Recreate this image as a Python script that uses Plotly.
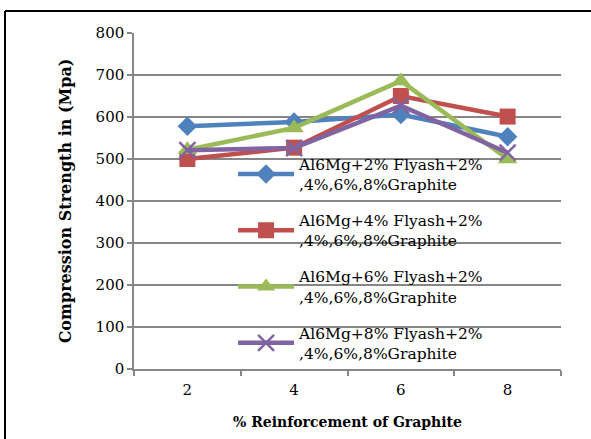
import plotly.graph_objects as go

# Graphite reinforcement levels (%)
graphite = ["2", "4", "6", "8"]

# Compression strength (MPa) for each flyash content
al_2_flyash = [578, 588, 606, 553]
al_4_flyash = [500, 527, 650, 601]
al_6_flyash = [522, 574, 686, 500]
al_8_flyash = [521, 526, 627, 515]

series_names = [
    "Al6Mg+2% Flyash+2%<br>,4%,6%,8%Graphite",
    "Al6Mg+4% Flyash+2%<br>,4%,6%,8%Graphite",
    "Al6Mg+6% Flyash+2%<br>,4%,6%,8%Graphite",
    "Al6Mg+8% Flyash+2%<br>,4%,6%,8%Graphite",
]
series_values = [al_2_flyash, al_4_flyash, al_6_flyash, al_8_flyash]
colors = ["#4F81BD", "#C0504D", "#9BBB59", "#8064A2"]
symbols = ["diamond", "square", "triangle-up", "x-thin-open"]
sizes = [15, 16, 17, 16]

FONT = "DejaVu Serif"

fig = go.Figure()
for i, (name, vals) in enumerate(zip(series_names, series_values)):
    marker = dict(symbol=symbols[i], size=sizes[i], color=colors[i])
    if symbols[i] == "x-thin-open":
        marker["line"] = dict(color=colors[i], width=2.5)
    fig.add_trace(go.Scatter(
        x=graphite, y=vals, name=name, mode="lines+markers",
        line=dict(color=colors[i], width=4.5),
        marker=marker,
        legendgroup=f"g{i}",
    ))

fig.update_layout(
    width=591, height=439,
    margin=dict(l=134, r=30, t=33, b=70),
    paper_bgcolor="white", plot_bgcolor="white",
    font=dict(family=FONT, size=15, color="#000000"),
    showlegend=True,
    legend=dict(
        x=0.232, y=0.66, xanchor="left", yanchor="top",
        bgcolor="rgba(0,0,0,0)", borderwidth=0,
        font=dict(family=FONT, size=15.5, color="#000000"),
        tracegroupgap=13, itemwidth=56,
    ),
    xaxis=dict(
        type="category", tickson="boundaries", range=[-0.5, 3.5],
        showgrid=False, showline=True, linecolor="#868686", linewidth=1.5,
        ticks="outside", ticklen=5, tickcolor="#868686", tickwidth=1.5,
        tickfont=dict(family=FONT, size=15), ticklabelstandoff=6,
        title=dict(text="<b>% Reinforcement of Graphite</b>",
                   font=dict(family=FONT, size=14), standoff=19),
    ),
    yaxis=dict(
        range=[0, 800], dtick=100, showgrid=True, gridcolor="#868686",
        gridwidth=1.5, zeroline=False, showline=True, linecolor="#868686",
        linewidth=1.5, ticks="outside", ticklen=5, tickcolor="#868686",
        tickwidth=1.5, tickfont=dict(family=FONT, size=15),
        title=dict(text="<b>Compression Strength in (Mpa)</b>",
                   font=dict(family=FONT, size=16), standoff=20),
    ),
    shapes=[
        dict(type="line", xref="paper", yref="paper",
             x0=-0.3021, x1=-0.3021, y0=-0.5, y1=1.0655,
             line=dict(color="#000000", width=2)),
        dict(type="line", xref="paper", yref="paper",
             x0=-0.3021, x1=1.2, y0=1.0655, y1=1.0655,
             line=dict(color="#000000", width=2)),
    ],
)

fig.write_html("out.html")
